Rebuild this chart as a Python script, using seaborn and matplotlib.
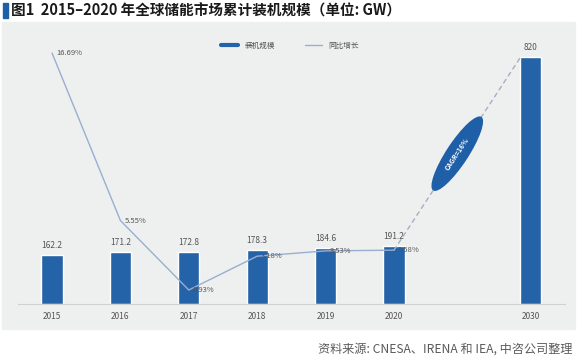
import numpy as np
import matplotlib
matplotlib.use("Agg")
import matplotlib.pyplot as plt
import seaborn as sns
from matplotlib.patches import Rectangle, Ellipse
from matplotlib.lines import Line2D
from matplotlib.transforms import IdentityTransform

# ---- data ----
years = ["2015", "2016", "2017", "2018", "2019", "2020", "2030"]
positions = [0, 1, 2, 3, 4, 5, 7]
capacity = [162.2, 171.2, 172.8, 178.3, 184.6, 191.2, 820]
growth = [16.69, 5.55, 0.93, 3.18, 3.53, 3.58]
growth_labels = ["16.69%", "5.55%", "0.93%", "3.18%", "3.53%", "3.58%"]
title = "图1  2015–2020 年全球储能市场累计装机规模（单位: GW）"
source = "资料来源: CNESA、IRENA 和 IEA, 中咨公司整理"
cagr_text = "CAGR=16%"
legend_labels = ["装机规模", "同比增长"]

sns.set_theme(style="white")
plt.rcParams['font.family'] = ['Noto Sans CJK SC', 'DejaVu Sans']

W, H = 578, 361
fig = plt.figure(figsize=(W / 100, H / 100), dpi=100)
fig.patch.set_facecolor("white")

def fx(px):
    return px / W

def fy(py):
    return 1 - py / H

# gray panel
fig.patches.append(Rectangle((fx(2), fy(329)), fx(573), (329 - 22) / H,
                             transform=fig.transFigure, color="#eef0ef", zorder=-5))
# title marker
fig.patches.append(Rectangle((fx(3), fy(18)), fx(5), 15 / H,
                             transform=fig.transFigure, color="#1f5fa8", zorder=1))
fig.text(fx(11), fy(11), title, fontsize=10.5, fontweight="bold", color="#1a1a1a",
         va="center", ha="left")
fig.text(fx(573), fy(349), source, fontsize=8.7, color="#5a5a5a", va="center", ha="right")

bar_color = "#2563a8"
line_color = "#9aaed0"

ax1 = fig.add_axes([17.8 / W, (H - 304) / H, 547.2 / W, 264 / H])
ax1.set_facecolor("none")
sns.barplot(x=positions, y=capacity, native_scale=True, width=0.31,
            color=bar_color, saturation=1, ax=ax1, zorder=2)
ax1.set_xlim(-0.5, 7.5)
ax1.set_ylim(0, 264 / 0.301)
ax1.set_xticks(positions)
ax1.set_xticklabels(years, fontsize=6, color="#555555")
ax1.tick_params(axis="x", length=0, pad=6)
ax1.set_yticks([])
for s in ["top", "left", "right"]:
    ax1.spines[s].set_visible(False)
ax1.spines["bottom"].set_color("#cfd2d4")
ax1.spines["bottom"].set_linewidth(0.8)
ax1.set_xlabel("")
ax1.set_ylabel("")
for p, v in zip(positions, capacity):
    lab = f"{v:g}" if v != int(v) else f"{int(v)}"
    ax1.text(p, v + 18, lab, ha="center", va="bottom", fontsize=6, color="#555555")

ax2 = ax1.twinx()
ax2.set_facecolor("none")
sns.lineplot(x=positions[:6], y=growth, ax=ax2, color=line_color, linewidth=1.0, zorder=3)
ax2.set_ylim(0, 264 / 15.04)
ax2.set_yticks([])
for s in ["top", "left", "right", "bottom"]:
    ax2.spines[s].set_visible(False)
ax2.set_ylabel("")
for p, v, lab in zip(positions[:6], growth, growth_labels):
    ax2.text(p + 0.06, v, lab, ha="left", va="center", fontsize=5.5, color="#555555")

# dashed trend line from 2020 growth point to 2030 bar top
ax2.annotate("", xy=(7 - 0.15, 820), xycoords=ax1.transData,
             xytext=(5, growth[-1]), textcoords=ax2.transData,
             arrowprops=dict(arrowstyle="-", linestyle=(0, (3, 3)), color="#a4b0c0",
                             linewidth=1.0, shrinkA=0, shrinkB=0))

fig.canvas.draw()
p1 = ax2.transData.transform((5, growth[-1]))
p2 = ax1.transData.transform((7 - 0.15, 820))
cx, cy = (p1 + p2) / 2
ang = np.degrees(np.arctan2(p2[1] - p1[1], p2[0] - p1[0]))
ell = Ellipse((cx, cy), 88, 22, angle=ang, transform=IdentityTransform(),
              facecolor="#1f5fa8", edgecolor="none", zorder=5)
fig.patches.append(ell)
fig.text(cx / W, cy / H, cagr_text, rotation=ang, ha="center", va="center",
         fontsize=5, color="white", fontweight="bold", zorder=6, rotation_mode="anchor")

handles = [Line2D([0], [0], color=bar_color, linewidth=3),
           Line2D([0], [0], color=line_color, linewidth=1)]
ax1.legend(handles, legend_labels, loc="center", bbox_to_anchor=(fx(290), fy(46)),
           bbox_transform=fig.transFigure, ncol=2, frameon=False, fontsize=5.5,
           handlelength=2.2, columnspacing=4, labelcolor="#555555")

fig.savefig("out.png", dpi=100)
